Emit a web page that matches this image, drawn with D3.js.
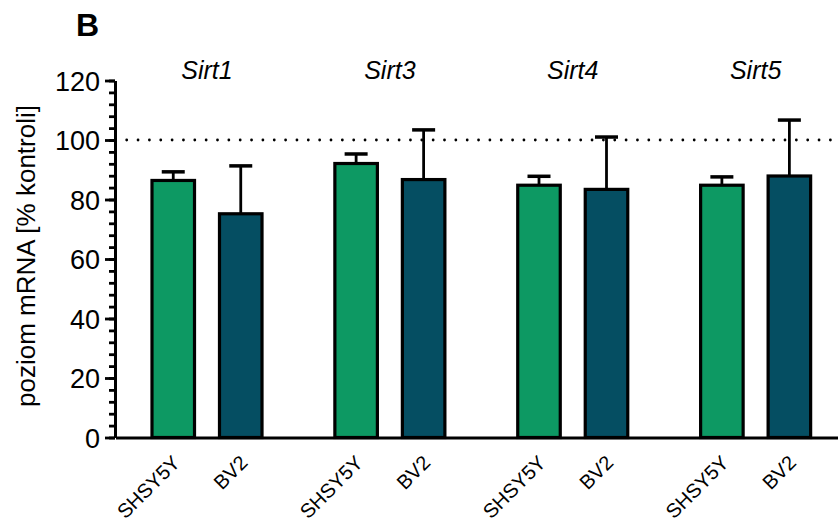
<!DOCTYPE html>
<html>
<head>
<meta charset="utf-8">
<script src="https://cdn.jsdelivr.net/npm/d3@7"></script>
<style>
  body { margin: 0; background: #fff; }
  svg { font-family: "Liberation Sans", Arial, sans-serif; }
</style>
</head>
<body>
<div id="chart"></div>
<script>
// genes and cell lines
var genes = ['Sirt1', 'Sirt3', 'Sirt4', 'Sirt5'];
var cells = ['SHSY5Y', 'BV2'];

// mean and upper error (mean + SD), % of control
var shsyMean = [86.4, 92.1, 84.8, 84.8];
var shsyErr = [89.3, 95.3, 87.8, 87.6];
var bv2Mean = [75.2, 86.7, 83.4, 87.9];
var bv2Err = [91.3, 103.4, 101.0, 106.7];

var yTicks = [0, 20, 40, 60, 80, 100, 120];
var controlLevel = 100;

var colors = { SHSY5Y: '#0d9963', BV2: '#054e62' };

var width = 838, height = 523;

// flatten into rows for the bars
var data = [];
genes.forEach(function(g, i) {
  data.push({ gene: g, cell: 'SHSY5Y', mean: shsyMean[i], err: shsyErr[i] });
  data.push({ gene: g, cell: 'BV2', mean: bv2Mean[i], err: bv2Err[i] });
});

var svg = d3.select('#chart').append('svg')
  .attr('width', width)
  .attr('height', height);

var y = d3.scaleLinear()
  .domain([0, 120])
  .range([437.5, 80.5]);

// group scale, 4 genes
var x0 = d3.scaleBand()
  .domain(genes)
  .range([115.5, 847]);

// position of the two bars inside a gene group
var x1 = d3.scaleBand()
  .domain(cells)
  .range([24, 159]);

var barW = x1.bandwidth() * 0.63;

// panel letter
svg.append('text')
  .attr('x', 76)
  .attr('y', 36)
  .style('font-size', '32px')
  .style('font-weight', 'bold')
  .text('B');

// y axis label
svg.append('text')
  .attr('transform', 'translate(35,' + y(61) + ') rotate(-90)')
  .attr('text-anchor', 'middle')
  .style('font-size', '26px')
  .text('poziom mRNA [% kontroli]');

// dotted control line at 100%
svg.append('line')
  .attr('x1', 126.7)
  .attr('x2', width)
  .attr('y1', y(controlLevel))
  .attr('y2', y(controlLevel))
  .attr('stroke', '#000')
  .attr('stroke-width', 2.8)
  .attr('stroke-linecap', 'round')
  .attr('stroke-dasharray', '0 11.35');

// bars
var bar = svg.selectAll('g.bar')
  .data(data)
  .enter().append('g')
  .attr('class', 'bar')
  .attr('transform', function(d) {
    return 'translate(' + (x0(d.gene) + x1(d.cell) + x1.bandwidth() / 2) + ',0)';
  });

// error bars (upper only)
bar.append('line')
  .attr('x1', 0).attr('x2', 0)
  .attr('y1', function(d) { return y(d.mean); })
  .attr('y2', function(d) { return y(d.err); })
  .attr('stroke', '#000')
  .attr('stroke-width', 2.8);

bar.append('line')
  .attr('x1', -11.5).attr('x2', 11.5)
  .attr('y1', function(d) { return y(d.err); })
  .attr('y2', function(d) { return y(d.err); })
  .attr('stroke', '#000')
  .attr('stroke-width', 3.5);

bar.append('rect')
  .attr('x', -barW / 2)
  .attr('width', barW)
  .attr('y', function(d) { return y(d.mean); })
  .attr('height', function(d) { return y(0) - y(d.mean); })
  .style('fill', function(d) { return colors[d.cell]; })
  .attr('stroke', '#000')
  .attr('stroke-width', 3.2);

// bar labels, rotated
bar.append('text')
  .attr('transform', 'translate(8,464) rotate(-45)')
  .attr('text-anchor', 'end')
  .style('font-size', '20px')
  .text(function(d) { return d.cell; });

// gene titles
svg.selectAll('text.gene')
  .data(genes)
  .enter().append('text')
  .attr('class', 'gene')
  .attr('x', function(d) { return x0(d) + x1('SHSY5Y') + x1.bandwidth(); })
  .attr('y', 79)
  .attr('text-anchor', 'middle')
  .style('font-size', '25px')
  .style('font-style', 'italic')
  .text(function(d) { return d; });

// y axis: minor ticks every 4, major every 20
var minor = svg.append('g')
  .attr('transform', 'translate(115,0)')
  .call(d3.axisLeft(y).tickValues(d3.range(0, 121, 4)).tickSize(6).tickFormat(''));
minor.select('.domain').remove();
minor.selectAll('line').attr('stroke-width', 2.8);

var yAxis = svg.append('g')
  .attr('transform', 'translate(115,0)')
  .call(d3.axisLeft(y).tickValues(yTicks).tickSize(10).tickPadding(5).tickSizeOuter(0));
yAxis.select('.domain').attr('stroke-width', 3);
yAxis.selectAll('line').attr('stroke-width', 2.8);
yAxis.selectAll('text')
  .attr('dy', '0.36em')
  .style('font-size', '27px')
  .style('font-family', '"Liberation Sans", Arial, sans-serif')
  .attr('fill', '#000');

// x axis line only
var xAxis = svg.append('g')
  .attr('transform', 'translate(0,' + y(0) + ')')
  .call(d3.axisBottom(x0).tickSize(0).tickFormat(''));
xAxis.select('.domain').attr('stroke-width', 3.2);
</script>
</body>
</html>
